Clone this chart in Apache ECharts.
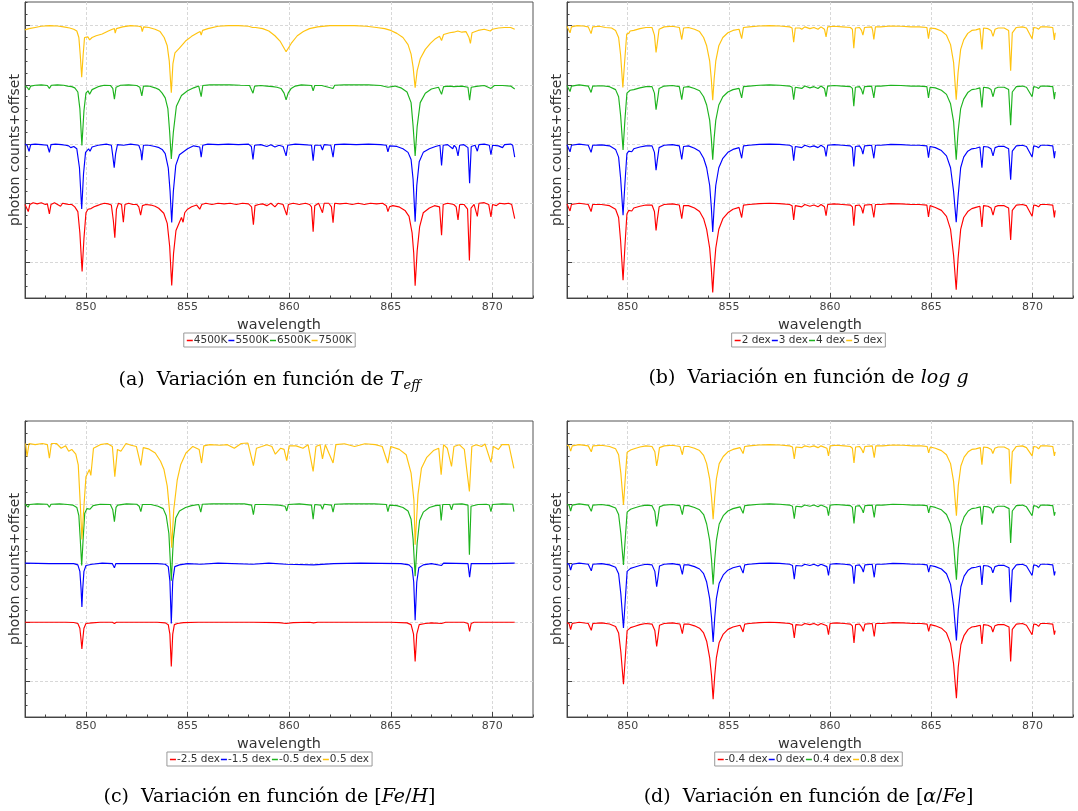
<!DOCTYPE html>
<html><head><meta charset="utf-8">
<script src="https://cdn.jsdelivr.net/npm/echarts@6/dist/echarts.min.js"></script>
<style>
html,body{margin:0;padding:0;background:#fff;width:1078px;height:811px;overflow:hidden}
.p{position:absolute}
</style></head><body>
<div id="pa" class="p" style="left:0;top:0;width:539px;height:419px"></div>
<div id="pb" class="p" style="left:539px;top:0;width:539px;height:419px"></div>
<div id="pc" class="p" style="left:0;top:419px;width:539px;height:392px"></div>
<div id="pd" class="p" style="left:539px;top:419px;width:539px;height:392px"></div>
<script>
// ---------------- data ----------------
const xTickValues = [850, 855, 860, 865, 870];
const yGridValues = [0, 0.5, 1, 1.5, 2];
const namesA = ['4500K', '5500K', '6500K', '7500K'];
const namesB = ['2 dex', '3 dex', '4 dex', '5 dex'];
const namesC = ['-2.5 dex', '-1.5 dex', '-0.5 dex', '0.5 dex'];
const namesD = ['-0.4 dex', '0 dex', '0.4 dex', '0.8 dex'];

// Panel (a): Teff
const specA_4500K = [[847.0,0.49],[847.08,0.5],[847.16,0.43],[847.24,0.49],[847.4,0.505],[847.6,0.495],[847.8,0.505],[848.0,0.49],[848.1,0.495],[848.2,0.41],[848.28,0.49],[848.45,0.505],[848.6,0.49],[848.75,0.475],[848.85,0.5],[849.0,0.495],[849.15,0.49],[849.3,0.49],[849.45,0.47],[849.6,0.43],[849.7,0.25],[849.81,-0.075],[849.9,0.2],[850.0,0.42],[850.1,0.45],[850.25,0.455],[850.4,0.47],[850.55,0.48],[850.7,0.49],[850.9,0.5],[851.1,0.495],[851.25,0.485],[851.35,0.35],[851.42,0.21],[851.5,0.45],[851.6,0.5],[851.75,0.49],[851.84,0.34],[851.92,0.49],[852.1,0.5],[852.3,0.49],[852.5,0.49],[852.6,0.47],[852.69,0.4],[852.78,0.48],[852.95,0.49],[853.2,0.485],[853.4,0.475],[853.58,0.458],[853.83,0.416],[854.0,0.33],[854.12,0.135],[854.22,-0.194],[854.31,0.077],[854.43,0.27],[854.6,0.34],[854.7,0.38],[854.78,0.34],[854.86,0.42],[855.0,0.45],[855.2,0.47],[855.45,0.485],[855.6,0.45],[855.7,0.49],[855.9,0.5],[856.2,0.49],[856.5,0.5],[856.8,0.495],[857.1,0.5],[857.4,0.49],[857.7,0.5],[858.0,0.495],[858.15,0.47],[858.24,0.32],[858.32,0.48],[858.5,0.49],[858.7,0.495],[858.9,0.48],[859.1,0.5],[859.3,0.47],[859.45,0.5],[859.7,0.49],[859.88,0.4],[859.96,0.49],[860.2,0.5],[860.5,0.49],[860.8,0.5],[861.0,0.49],[861.1,0.47],[861.18,0.26],[861.26,0.48],[861.45,0.5],[861.64,0.42],[861.72,0.5],[861.95,0.5],[862.08,0.47],[862.16,0.337],[862.24,0.5],[862.5,0.495],[862.8,0.5],[863.1,0.49],[863.4,0.5],[863.7,0.49],[864.0,0.5],[864.3,0.495],[864.6,0.5],[864.78,0.48],[864.86,0.43],[864.94,0.47],[865.1,0.48],[865.4,0.47],[865.7,0.44],[865.9,0.39],[866.05,0.25],[866.13,0.08],[866.2,-0.197],[866.3,0.1],[866.42,0.3],[866.6,0.42],[866.9,0.46],[867.15,0.48],[867.4,0.47],[867.5,0.23],[867.58,0.49],[867.8,0.5],[868.1,0.49],[868.22,0.47],[868.31,0.36],[868.39,0.49],[868.6,0.49],[868.78,0.45],[868.87,0.017],[868.95,0.46],[869.1,0.49],[869.26,0.39],[869.34,0.5],[869.6,0.505],[869.82,0.49],[869.93,0.385],[870.01,0.49],[870.2,0.48],[870.35,0.5],[870.6,0.495],[870.8,0.5],[870.95,0.49],[871.1,0.37]];
const specA_5500K = [[847.0,1.0],[847.1,0.99],[847.2,0.938],[847.28,0.995],[847.5,1.0],[847.8,0.995],[848.1,0.99],[848.2,0.93],[848.28,0.995],[848.5,1.0],[848.8,0.995],[849.0,0.99],[849.15,0.985],[849.25,0.97],[849.4,0.98],[849.55,0.96],[849.68,0.8],[849.79,0.451],[849.88,0.75],[849.98,0.93],[850.13,0.96],[850.2,0.94],[850.3,0.975],[850.6,0.99],[851.0,1.0],[851.25,0.99],[851.32,0.9],[851.39,0.8],[851.46,0.92],[851.55,0.995],[851.85,0.99],[852.2,1.0],[852.6,0.99],[852.7,0.94],[852.75,0.865],[852.83,0.99],[853.1,0.99],[853.4,0.98],[853.6,0.97],[853.75,0.955],[853.9,0.92],[854.05,0.8],[854.14,0.6],[854.22,0.338],[854.3,0.6],[854.42,0.82],[854.6,0.91],[854.8,0.935],[855.0,0.96],[855.3,0.985],[855.6,0.975],[855.67,0.89],[855.75,0.99],[856.0,1.0],[856.5,0.995],[857.0,1.0],[857.5,0.995],[858.0,1.0],[858.14,0.98],[858.22,0.87],[858.3,0.99],[858.6,0.995],[858.9,0.98],[859.1,0.995],[859.3,0.975],[859.5,0.99],[859.7,0.98],[859.85,0.9],[859.93,0.99],[860.3,1.0],[860.7,0.995],[861.1,0.99],[861.18,0.86],[861.26,0.99],[861.55,0.99],[861.64,0.95],[861.72,0.995],[862.05,0.99],[862.16,0.89],[862.24,0.995],[862.7,1.0],[863.3,0.995],[863.9,1.0],[864.5,0.995],[864.78,0.99],[864.86,0.935],[864.94,0.985],[865.3,0.98],[865.6,0.96],[865.85,0.93],[866.0,0.87],[866.1,0.7],[866.2,0.345],[866.28,0.65],[866.4,0.85],[866.6,0.93],[866.9,0.96],[867.2,0.98],[867.42,0.99],[867.5,0.82],[867.58,0.99],[867.8,0.995],[868.05,0.96],[868.12,0.99],[868.22,0.97],[868.31,0.9],[868.39,0.99],[868.6,0.995],[868.8,0.97],[868.88,0.67],[868.96,0.98],[869.15,0.99],[869.26,0.94],[869.34,0.995],[869.6,1.0],[869.85,0.99],[869.93,0.91],[870.01,0.99],[870.3,0.985],[870.5,0.97],[870.6,0.995],[870.9,1.0],[871.0,0.99],[871.1,0.89]];
const specA_6500K = [[847.0,1.49],[847.1,1.48],[847.2,1.458],[847.28,1.49],[847.5,1.497],[847.8,1.5],[848.1,1.495],[848.2,1.47],[848.3,1.497],[848.6,1.5],[848.9,1.497],[849.1,1.49],[849.3,1.485],[849.45,1.475],[849.6,1.44],[849.7,1.3],[849.8,0.988],[849.9,1.28],[850.0,1.43],[850.1,1.45],[850.18,1.42],[850.3,1.46],[850.6,1.485],[850.9,1.497],[851.2,1.495],[851.32,1.47],[851.4,1.379],[851.48,1.48],[851.7,1.497],[852.1,1.5],[852.5,1.495],[852.65,1.48],[852.75,1.407],[852.83,1.49],[853.1,1.49],[853.4,1.475],[853.6,1.46],[853.75,1.43],[853.9,1.39],[854.03,1.3],[854.12,1.1],[854.2,0.875],[854.3,1.1],[854.45,1.32],[854.7,1.41],[855.0,1.45],[855.3,1.475],[855.55,1.49],[855.67,1.40],[855.75,1.495],[856.1,1.5],[856.6,1.5],[857.1,1.5],[857.6,1.497],[858.05,1.495],[858.14,1.48],[858.22,1.43],[858.3,1.49],[858.6,1.495],[858.9,1.49],[859.2,1.485],[859.4,1.48],[859.6,1.47],[859.75,1.43],[859.85,1.373],[859.95,1.43],[860.1,1.47],[860.3,1.49],[860.6,1.5],[861.1,1.495],[861.18,1.45],[861.26,1.495],[861.6,1.495],[862.16,1.47],[862.24,1.497],[862.7,1.5],[863.3,1.5],[863.9,1.5],[864.5,1.495],[864.86,1.48],[865.2,1.49],[865.5,1.475],[865.8,1.44],[866.0,1.35],[866.1,1.15],[866.2,0.9],[866.3,1.15],[866.45,1.35],[866.7,1.43],[867.0,1.465],[867.35,1.48],[867.5,1.42],[867.6,1.485],[867.9,1.49],[868.1,1.485],[868.5,1.49],[868.8,1.48],[868.88,1.37],[868.96,1.48],[869.3,1.49],[869.6,1.495],[869.93,1.47],[870.1,1.495],[870.5,1.495],[870.9,1.49],[871.1,1.465]];
const specA_7500K = [[847.0,1.965],[847.2,1.975],[847.5,1.985],[847.8,1.995],[848.2,2.0],[848.6,1.997],[848.9,1.99],[849.2,1.98],[849.4,1.97],[849.55,1.955],[849.65,1.9],[849.72,1.75],[849.79,1.564],[849.86,1.75],[849.93,1.9],[850.0,1.915],[850.1,1.905],[850.18,1.88],[850.3,1.9],[850.5,1.915],[850.8,1.93],[851.1,1.955],[851.3,1.97],[851.4,1.975],[851.44,1.937],[851.5,1.975],[851.8,1.99],[852.2,2.0],[852.6,1.995],[852.72,1.99],[852.77,1.95],[852.84,1.99],[853.1,1.985],[853.4,1.97],[853.65,1.95],[853.85,1.9],[854.0,1.83],[854.1,1.7],[854.2,1.434],[854.28,1.68],[854.38,1.77],[854.6,1.81],[854.9,1.87],[855.2,1.91],[855.5,1.94],[855.62,1.95],[855.67,1.92],[855.74,1.96],[856.0,1.975],[856.5,1.995],[857.0,2.0],[857.5,2.0],[858.0,1.995],[858.2,1.985],[858.25,1.97],[858.35,1.985],[858.7,1.975],[859.0,1.955],[859.3,1.915],[859.55,1.87],[859.85,1.78],[860.1,1.85],[860.4,1.915],[860.7,1.95],[861.0,1.975],[861.4,1.99],[862.0,2.0],[862.6,2.0],[863.2,2.0],[863.8,1.995],[864.3,1.985],[864.7,1.975],[865.0,1.96],[865.3,1.935],[865.6,1.9],[865.85,1.84],[866.0,1.76],[866.1,1.65],[866.2,1.476],[866.3,1.62],[866.45,1.72],[866.7,1.8],[866.95,1.85],[867.2,1.89],[867.4,1.91],[867.5,1.875],[867.6,1.925],[867.9,1.94],[868.1,1.945],[868.3,1.955],[868.5,1.945],[868.7,1.95],[868.85,1.9],[868.92,1.85],[869.0,1.94],[869.3,1.96],[869.6,1.97],[869.9,1.955],[870.0,1.97],[870.3,1.98],[870.6,1.985],[870.9,1.985],[871.1,1.97]];

// Panel (b): log g
const specB_2 = [[847.0,0.495],[847.08,0.49],[847.15,0.435],[847.22,0.49],[847.6,0.5],[848.05,0.49],[848.19,0.43],[848.27,0.49],[848.7,0.49],[849.1,0.48],[849.4,0.45],[849.55,0.38],[849.65,0.18],[849.77,-0.15],[849.86,0.13],[849.96,0.41],[850.05,0.44],[850.12,0.455],[850.2,0.435],[850.3,0.46],[850.6,0.475],[850.9,0.485],[851.2,0.485],[851.32,0.43],[851.4,0.27],[851.46,0.36],[851.55,0.47],[851.8,0.49],[852.2,0.495],[852.55,0.485],[852.67,0.37],[852.76,0.48],[853.0,0.48],[853.3,0.46],[853.55,0.43],[853.75,0.37],[853.9,0.28],[854.05,0.12],[854.13,-0.05],[854.2,-0.253],[854.27,-0.05],[854.35,0.12],[854.5,0.28],[854.7,0.37],[854.95,0.42],[855.2,0.45],[855.5,0.465],[855.63,0.38],[855.72,0.485],[856.0,0.49],[856.5,0.497],[857.0,0.5],[857.5,0.497],[858.0,0.49],[858.12,0.48],[858.2,0.36],[858.28,0.48],[858.6,0.47],[858.75,0.49],[859.0,0.475],[859.2,0.485],[859.4,0.47],[859.55,0.49],[859.72,0.47],[859.8,0.395],[859.88,0.49],[860.2,0.495],[860.6,0.49],[861.0,0.485],[861.1,0.47],[861.17,0.31],[861.25,0.48],[861.45,0.485],[861.55,0.46],[861.62,0.415],[861.7,0.485],[862.05,0.49],[862.16,0.38],[862.24,0.49],[862.5,0.49],[863.0,0.497],[863.5,0.495],[864.0,0.49],[864.4,0.49],[864.78,0.485],[864.86,0.385],[864.94,0.48],[865.2,0.465],[865.5,0.44],[865.75,0.39],[865.95,0.28],[866.1,0.06],[866.23,-0.23],[866.32,0.03],[866.45,0.28],[866.6,0.38],[866.8,0.43],[867.0,0.455],[867.2,0.465],[867.4,0.475],[867.5,0.3],[867.58,0.48],[867.8,0.475],[867.95,0.46],[868.05,0.4],[868.15,0.47],[868.3,0.48],[868.6,0.48],[868.82,0.46],[868.92,0.19],[869.0,0.44],[869.2,0.485],[869.5,0.49],[869.7,0.48],[869.98,0.39],[870.06,0.485],[870.2,0.48],[870.3,0.47],[870.4,0.49],[870.7,0.49],[871.0,0.485],[871.08,0.38],[871.12,0.44]];
const specB_3 = [[847.0,0.995],[847.08,0.99],[847.15,0.935],[847.22,0.99],[847.6,1.0],[848.05,0.99],[848.19,0.93],[848.27,0.99],[848.7,0.993],[849.1,0.985],[849.4,0.955],[849.55,0.89],[849.65,0.71],[849.77,0.40],[849.86,0.66],[849.96,0.92],[850.05,0.94],[850.12,0.955],[850.2,0.935],[850.3,0.96],[850.6,0.975],[850.9,0.985],[851.2,0.985],[851.32,0.93],[851.4,0.78],[851.46,0.86],[851.55,0.97],[851.8,0.99],[852.2,0.995],[852.55,0.985],[852.67,0.87],[852.76,0.98],[853.0,0.985],[853.3,0.965],[853.55,0.94],[853.75,0.88],[853.9,0.8],[854.05,0.65],[854.13,0.47],[854.2,0.257],[854.27,0.47],[854.35,0.65],[854.5,0.8],[854.7,0.88],[854.95,0.93],[855.2,0.955],[855.5,0.97],[855.63,0.88],[855.72,0.985],[856.0,0.99],[856.5,0.997],[857.0,1.0],[857.5,0.997],[858.0,0.99],[858.12,0.98],[858.2,0.86],[858.28,0.98],[858.6,0.97],[858.75,0.99],[859.0,0.975],[859.2,0.985],[859.4,0.97],[859.55,0.99],[859.72,0.97],[859.8,0.895],[859.88,0.99],[860.2,0.995],[860.6,0.99],[861.0,0.985],[861.1,0.97],[861.17,0.81],[861.25,0.98],[861.45,0.985],[861.55,0.96],[861.62,0.915],[861.7,0.985],[862.05,0.99],[862.16,0.88],[862.24,0.99],[862.5,0.99],[863.0,0.997],[863.5,0.995],[864.0,0.99],[864.4,0.99],[864.78,0.985],[864.86,0.885],[864.94,0.98],[865.2,0.97],[865.5,0.945],[865.75,0.9],[865.95,0.8],[866.1,0.6],[866.23,0.34],[866.32,0.55],[866.45,0.8],[866.6,0.89],[866.8,0.94],[867.0,0.96],[867.2,0.965],[867.4,0.975],[867.5,0.8],[867.58,0.98],[867.8,0.975],[867.95,0.96],[868.05,0.9],[868.15,0.97],[868.3,0.98],[868.6,0.98],[868.82,0.96],[868.92,0.70],[869.0,0.94],[869.2,0.985],[869.5,0.99],[869.7,0.98],[869.98,0.89],[870.06,0.985],[870.2,0.98],[870.3,0.97],[870.4,0.99],[870.7,0.99],[871.0,0.985],[871.08,0.88],[871.12,0.94]];
const specB_4 = [[847.0,1.495],[847.08,1.49],[847.15,1.444],[847.22,1.49],[847.6,1.5],[848.05,1.49],[848.19,1.436],[848.27,1.49],[848.7,1.493],[849.1,1.485],[849.4,1.46],[849.55,1.4],[849.65,1.24],[849.77,0.95],[849.86,1.2],[849.96,1.43],[850.05,1.44],[850.12,1.455],[850.2,1.44],[850.3,1.46],[850.6,1.475],[850.9,1.485],[851.2,1.485],[851.32,1.43],[851.4,1.29],[851.46,1.36],[851.55,1.47],[851.8,1.49],[852.2,1.495],[852.55,1.485],[852.67,1.375],[852.76,1.48],[853.0,1.485],[853.3,1.47],[853.55,1.45],[853.75,1.4],[853.9,1.33],[854.05,1.2],[854.13,1.05],[854.2,0.867],[854.27,1.05],[854.35,1.2],[854.5,1.33],[854.7,1.4],[854.95,1.44],[855.2,1.46],[855.5,1.47],[855.63,1.39],[855.72,1.485],[856.0,1.49],[856.5,1.497],[857.0,1.5],[857.5,1.497],[858.0,1.49],[858.12,1.48],[858.2,1.375],[858.28,1.48],[858.6,1.47],[858.75,1.49],[859.0,1.475],[859.2,1.485],[859.4,1.47],[859.55,1.49],[859.72,1.47],[859.8,1.40],[859.88,1.49],[860.2,1.495],[860.6,1.49],[861.0,1.485],[861.1,1.47],[861.17,1.32],[861.25,1.48],[861.45,1.485],[861.55,1.46],[861.62,1.42],[861.7,1.485],[862.05,1.49],[862.16,1.39],[862.24,1.49],[862.5,1.49],[863.0,1.497],[863.5,1.495],[864.0,1.49],[864.4,1.49],[864.78,1.485],[864.86,1.39],[864.94,1.48],[865.2,1.475],[865.5,1.455],[865.75,1.42],[865.95,1.34],[866.1,1.19],[866.23,0.867],[866.32,1.1],[866.45,1.3],[866.6,1.38],[866.8,1.435],[867.0,1.46],[867.2,1.465],[867.4,1.475],[867.5,1.31],[867.58,1.48],[867.8,1.475],[867.95,1.46],[868.05,1.4],[868.15,1.47],[868.3,1.48],[868.6,1.48],[868.82,1.46],[868.92,1.16],[869.0,1.44],[869.2,1.485],[869.5,1.49],[869.7,1.48],[869.98,1.40],[870.06,1.485],[870.2,1.48],[870.3,1.47],[870.4,1.49],[870.7,1.49],[871.0,1.485],[871.08,1.38],[871.12,1.44]];
const specB_5 = [[847.0,1.995],[847.08,1.99],[847.15,1.94],[847.22,1.99],[847.5,2.0],[847.8,1.997],[848.05,1.99],[848.19,1.933],[848.27,1.99],[848.6,1.995],[848.9,1.985],[849.2,1.98],[849.4,1.96],[849.55,1.9],[849.65,1.75],[849.76,1.478],[849.85,1.7],[849.95,1.93],[850.05,1.935],[850.12,1.955],[850.2,1.94],[850.3,1.96],[850.6,1.975],[850.9,1.985],[851.2,1.985],[851.32,1.92],[851.4,1.774],[851.46,1.85],[851.55,1.97],[851.8,1.99],[852.2,1.995],[852.55,1.985],[852.67,1.883],[852.76,1.98],[853.0,1.985],[853.3,1.97],[853.55,1.95],[853.75,1.9],[853.9,1.83],[854.05,1.7],[854.13,1.55],[854.2,1.37],[854.27,1.55],[854.35,1.7],[854.5,1.83],[854.7,1.9],[854.95,1.94],[855.2,1.96],[855.5,1.97],[855.63,1.89],[855.72,1.985],[856.0,1.99],[856.5,1.997],[857.0,2.0],[857.5,1.997],[858.0,1.99],[858.12,1.98],[858.2,1.86],[858.28,1.98],[858.5,1.98],[858.6,1.97],[858.75,1.99],[859.0,1.975],[859.2,1.985],[859.4,1.97],[859.55,1.99],[859.72,1.97],[859.8,1.905],[859.88,1.99],[860.2,1.995],[860.6,1.99],[861.0,1.985],[861.1,1.97],[861.17,1.81],[861.25,1.98],[861.45,1.985],[861.55,1.96],[861.62,1.92],[861.7,1.985],[862.05,1.99],[862.1,1.96],[862.16,1.883],[862.24,1.99],[862.5,1.99],[863.0,1.997],[863.5,1.995],[864.0,1.99],[864.4,1.99],[864.78,1.985],[864.86,1.89],[864.94,1.98],[865.2,1.975],[865.5,1.955],[865.75,1.92],[865.95,1.84],[866.1,1.69],[866.23,1.375],[866.32,1.6],[866.45,1.8],[866.6,1.88],[866.8,1.935],[867.0,1.96],[867.2,1.965],[867.4,1.975],[867.5,1.8],[867.58,1.98],[867.8,1.975],[867.95,1.96],[868.05,1.91],[868.15,1.97],[868.3,1.98],[868.6,1.98],[868.82,1.96],[868.92,1.62],[869.0,1.94],[869.2,1.985],[869.5,1.99],[869.7,1.98],[869.98,1.89],[870.06,1.985],[870.2,1.98],[870.3,1.97],[870.4,1.99],[870.7,1.99],[871.0,1.985],[871.08,1.88],[871.12,1.94]];

// Panel (c): [Fe/H]
const specC_m25 = [[847.0,0.5],[848.0,0.5],[849.0,0.5],[849.4,0.498],[849.6,0.49],[849.7,0.45],[849.76,0.35],[849.8,0.274],[849.84,0.35],[849.9,0.45],[850.0,0.49],[850.3,0.495],[850.7,0.5],[851.3,0.5],[851.4,0.49],[851.5,0.5],[852.5,0.5],[853.5,0.5],[853.9,0.495],[854.05,0.48],[854.13,0.4],[854.2,0.127],[854.27,0.4],[854.35,0.48],[854.5,0.49],[854.8,0.497],[855.5,0.5],[857.0,0.5],[858.2,0.5],[859.5,0.497],[859.85,0.49],[860.2,0.497],[861.0,0.5],[861.2,0.495],[861.4,0.5],[863.0,0.5],[865.0,0.5],[865.8,0.495],[866.0,0.48],[866.12,0.4],[866.2,0.17],[866.28,0.4],[866.4,0.48],[866.7,0.49],[867.0,0.495],[867.5,0.49],[867.7,0.5],[868.6,0.5],[868.8,0.49],[868.88,0.424],[868.96,0.49],[869.1,0.5],[871.1,0.5]];
const specC_m15 = [[847.0,1.0],[848.2,0.995],[849.4,0.995],[849.6,0.985],[849.7,0.93],[849.76,0.78],[849.8,0.63],[849.84,0.78],[849.9,0.93],[850.0,0.98],[850.3,0.99],[850.8,1.0],[851.3,0.995],[851.4,0.96],[851.47,0.995],[852.7,0.995],[853.5,0.995],[853.9,0.99],[854.05,0.97],[854.13,0.85],[854.2,0.489],[854.27,0.85],[854.37,0.97],[854.6,0.985],[855.0,0.995],[855.65,0.99],[856.5,1.0],[858.2,0.99],[859.0,1.0],[859.85,0.99],[861.2,0.985],[862.2,0.995],[863.5,1.0],[865.5,0.995],[865.9,0.985],[866.05,0.96],[866.13,0.84],[866.2,0.517],[866.28,0.84],[866.38,0.96],[866.6,0.985],[867.0,0.995],[867.5,0.98],[867.6,1.0],[868.8,0.995],[868.88,0.88],[868.96,0.995],[869.9,0.995],[871.1,1.0]];
const specC_m05 = [[847.0,1.5],[847.08,1.49],[847.15,1.472],[847.22,1.495],[847.6,1.5],[848.1,1.497],[848.2,1.472],[848.28,1.497],[848.7,1.5],[849.1,1.495],[849.35,1.49],[849.55,1.47],[849.65,1.4],[849.72,1.2],[849.79,0.98],[849.86,1.2],[849.94,1.42],[850.05,1.46],[850.12,1.47],[850.2,1.455],[850.35,1.485],[850.7,1.497],[851.2,1.495],[851.32,1.45],[851.4,1.35],[851.48,1.47],[851.56,1.49],[852.0,1.5],[852.5,1.497],[852.62,1.48],[852.7,1.435],[852.78,1.495],[853.2,1.495],[853.55,1.48],[853.8,1.46],[853.95,1.4],[854.08,1.25],[854.2,0.85],[854.3,1.2],[854.42,1.38],[854.6,1.44],[854.9,1.47],[855.2,1.485],[855.55,1.495],[855.65,1.43],[855.73,1.497],[856.2,1.5],[857.0,1.5],[857.8,1.5],[858.15,1.49],[858.24,1.41],[858.32,1.495],[858.8,1.495],[859.5,1.49],[859.8,1.48],[859.88,1.44],[859.96,1.495],[860.5,1.5],[861.1,1.49],[861.18,1.37],[861.26,1.495],[861.55,1.49],[861.64,1.455],[861.72,1.497],[862.08,1.49],[862.16,1.43],[862.24,1.497],[862.8,1.5],[863.5,1.5],[864.2,1.5],[864.78,1.495],[864.86,1.435],[864.94,1.49],[865.3,1.485],[865.6,1.47],[865.85,1.44],[866.0,1.37],[866.1,1.2],[866.2,0.89],[866.3,1.17],[866.42,1.36],[866.6,1.43],[866.9,1.47],[867.2,1.485],[867.42,1.49],[867.48,1.36],[867.56,1.495],[867.9,1.495],[867.99,1.45],[868.07,1.497],[868.5,1.5],[868.8,1.49],[868.87,1.07],[868.95,1.48],[869.3,1.495],[869.7,1.497],[869.85,1.49],[869.93,1.435],[870.01,1.495],[870.5,1.5],[871.0,1.497],[871.06,1.435]];
const specC_p05 = [[847.03,2.01],[847.1,1.90],[847.2,2.01],[847.5,2.0],[847.85,2.01],[848.1,2.0],[848.2,1.887],[848.3,2.01],[848.55,2.01],[848.78,1.97],[849.0,1.99],[849.15,1.945],[849.3,1.96],[849.5,1.92],[849.62,1.83],[849.72,1.5],[849.8,1.20],[849.88,1.43],[850.0,1.73],[850.17,1.79],[850.24,1.74],[850.37,1.97],[850.7,2.0],[851.05,2.01],[851.3,1.985],[851.42,1.73],[851.55,1.96],[851.72,1.945],[851.97,2.01],[852.22,1.995],[852.48,1.985],[852.7,1.825],[852.82,1.975],[853.07,1.965],[853.41,1.93],[853.67,1.86],[853.84,1.79],[854.0,1.65],[854.12,1.43],[854.22,1.13],[854.32,1.45],[854.49,1.70],[854.66,1.83],[854.92,1.93],[855.26,1.985],[855.57,1.96],[855.69,1.845],[855.8,1.99],[856.1,2.0],[856.62,1.995],[856.96,2.0],[857.3,1.97],[857.64,2.01],[857.97,2.014],[858.24,1.823],[858.39,1.97],[858.65,1.985],[858.9,2.0],[859.15,1.985],[859.32,1.92],[859.58,1.97],[859.75,1.96],[859.88,1.865],[860.0,1.99],[860.34,1.99],[860.68,1.97],[860.93,2.0],[861.18,1.774],[861.32,1.985],[861.52,2.0],[861.64,1.88],[861.78,2.0],[862.16,1.845],[862.3,2.0],[862.72,2.008],[863.22,1.985],[863.73,2.008],[864.24,2.0],[864.58,1.985],[864.85,1.845],[865.0,1.985],[865.42,1.96],[865.76,1.915],[866.0,1.76],[866.14,1.53],[866.2,1.155],[866.34,1.58],[866.51,1.80],[866.76,1.89],[867.1,1.95],[867.36,1.97],[867.48,1.746],[867.6,2.0],[867.78,1.97],[867.99,1.816],[868.11,1.985],[868.37,2.0],[868.62,1.96],[868.87,1.605],[868.99,1.985],[869.2,2.0],[869.47,1.985],[869.64,2.006],[869.93,1.85],[870.05,1.985],[870.3,1.96],[870.47,2.0],[870.81,2.0],[871.06,1.80]];

// Panel (d): [alpha/Fe]
const specD_m04 = [[847.0,0.495],[847.1,0.49],[847.18,0.438],[847.26,0.49],[847.6,0.5],[848.05,0.49],[848.2,0.432],[848.28,0.49],[848.7,0.495],[849.1,0.485],[849.4,0.465],[849.55,0.41],[849.66,0.25],[849.79,-0.023],[849.88,0.2],[849.97,0.43],[850.05,0.445],[850.14,0.455],[850.22,0.44],[850.32,0.465],[850.6,0.48],[850.9,0.49],[851.2,0.485],[851.34,0.43],[851.43,0.297],[851.49,0.37],[851.57,0.475],[851.8,0.49],[852.2,0.495],[852.58,0.485],[852.7,0.404],[852.78,0.485],[853.0,0.485],[853.3,0.47],[853.55,0.45],[853.75,0.41],[853.9,0.34],[854.05,0.2],[854.14,0.05],[854.22,-0.15],[854.3,0.05],[854.38,0.2],[854.52,0.33],[854.72,0.4],[854.95,0.44],[855.2,0.46],[855.55,0.475],[855.7,0.418],[855.78,0.485],[856.0,0.49],[856.5,0.497],[857.0,0.5],[857.5,0.497],[858.0,0.49],[858.14,0.48],[858.23,0.367],[858.31,0.48],[858.6,0.475],[858.75,0.49],[859.0,0.48],[859.2,0.49],[859.4,0.475],[859.55,0.49],[859.84,0.47],[859.92,0.395],[860.0,0.49],[860.3,0.495],[860.7,0.49],[861.0,0.485],[861.1,0.47],[861.18,0.325],[861.26,0.48],[861.45,0.485],[861.56,0.46],[861.64,0.424],[861.72,0.485],[862.08,0.49],[862.18,0.38],[862.26,0.49],[862.6,0.49],[863.1,0.497],[863.6,0.495],[864.1,0.49],[864.5,0.49],[864.79,0.485],[864.87,0.424],[864.95,0.48],[865.2,0.47],[865.5,0.45],[865.75,0.41],[865.95,0.32],[866.1,0.15],[866.24,-0.141],[866.33,0.12],[866.46,0.31],[866.62,0.39],[866.82,0.44],[867.0,0.46],[867.2,0.465],[867.42,0.475],[867.5,0.316],[867.58,0.48],[867.8,0.475],[867.96,0.46],[868.04,0.418],[868.14,0.47],[868.3,0.48],[868.6,0.48],[868.84,0.46],[868.92,0.17],[869.0,0.44],[869.2,0.485],[869.5,0.49],[869.7,0.475],[869.98,0.395],[870.06,0.485],[870.2,0.48],[870.3,0.465],[870.4,0.49],[870.7,0.49],[871.0,0.485],[871.08,0.395],[871.12,0.43]];
const specD_0 = [[847.0,0.995],[847.1,0.99],[847.18,0.94],[847.26,0.99],[847.6,1.0],[848.05,0.99],[848.2,0.935],[848.28,0.99],[848.7,0.995],[849.1,0.985],[849.4,0.965],[849.55,0.91],[849.66,0.74],[849.79,0.452],[849.88,0.69],[849.97,0.93],[850.05,0.945],[850.14,0.955],[850.22,0.94],[850.32,0.965],[850.6,0.98],[850.9,0.99],[851.2,0.985],[851.34,0.93],[851.43,0.8],[851.49,0.87],[851.57,0.975],[851.8,0.99],[852.2,0.995],[852.58,0.985],[852.7,0.905],[852.78,0.985],[853.0,0.985],[853.3,0.97],[853.55,0.95],[853.75,0.91],[853.9,0.84],[854.05,0.7],[854.14,0.54],[854.22,0.333],[854.3,0.54],[854.38,0.7],[854.52,0.83],[854.72,0.9],[854.95,0.94],[855.2,0.96],[855.55,0.975],[855.7,0.915],[855.78,0.985],[856.0,0.99],[856.5,0.997],[857.0,1.0],[857.5,0.997],[858.0,0.99],[858.14,0.98],[858.23,0.865],[858.31,0.98],[858.6,0.975],[858.75,0.99],[859.0,0.98],[859.2,0.99],[859.4,0.975],[859.55,0.99],[859.84,0.97],[859.92,0.895],[860.0,0.99],[860.3,0.995],[860.7,0.99],[861.0,0.985],[861.1,0.97],[861.18,0.825],[861.26,0.98],[861.45,0.985],[861.56,0.96],[861.64,0.924],[861.72,0.985],[862.08,0.99],[862.18,0.88],[862.26,0.99],[862.6,0.99],[863.1,0.997],[863.6,0.995],[864.1,0.99],[864.5,0.99],[864.79,0.985],[864.87,0.924],[864.95,0.98],[865.2,0.97],[865.5,0.95],[865.75,0.91],[865.95,0.82],[866.1,0.64],[866.24,0.347],[866.33,0.6],[866.46,0.8],[866.62,0.89],[866.82,0.94],[867.0,0.96],[867.2,0.965],[867.42,0.975],[867.5,0.816],[867.58,0.98],[867.8,0.975],[867.96,0.96],[868.04,0.918],[868.14,0.97],[868.3,0.98],[868.6,0.98],[868.84,0.96],[868.92,0.67],[869.0,0.94],[869.2,0.985],[869.5,0.99],[869.7,0.975],[869.98,0.895],[870.06,0.985],[870.2,0.98],[870.3,0.965],[870.4,0.99],[870.7,0.99],[871.0,0.985],[871.08,0.895],[871.12,0.93]];
const specD_p04 = [[847.0,1.495],[847.1,1.49],[847.18,1.44],[847.26,1.49],[847.6,1.5],[848.05,1.49],[848.2,1.437],[848.28,1.49],[848.7,1.495],[849.1,1.485],[849.4,1.465],[849.55,1.41],[849.66,1.25],[849.79,0.985],[849.88,1.21],[849.97,1.43],[850.05,1.445],[850.14,1.455],[850.22,1.44],[850.32,1.465],[850.6,1.48],[850.9,1.49],[851.2,1.485],[851.34,1.435],[851.43,1.31],[851.49,1.375],[851.57,1.475],[851.8,1.49],[852.2,1.495],[852.58,1.485],[852.7,1.41],[852.78,1.485],[853.0,1.485],[853.3,1.47],[853.55,1.45],[853.75,1.41],[853.9,1.33],[854.05,1.19],[854.14,1.03],[854.22,0.82],[854.3,1.03],[854.38,1.19],[854.52,1.33],[854.72,1.4],[854.95,1.44],[855.2,1.46],[855.55,1.475],[855.7,1.42],[855.78,1.485],[856.0,1.49],[856.5,1.497],[857.0,1.5],[857.5,1.497],[858.0,1.49],[858.14,1.48],[858.23,1.375],[858.31,1.48],[858.6,1.475],[858.75,1.49],[859.0,1.48],[859.2,1.49],[859.4,1.475],[859.55,1.49],[859.84,1.47],[859.92,1.4],[860.0,1.49],[860.3,1.495],[860.7,1.49],[861.0,1.485],[861.1,1.47],[861.18,1.335],[861.26,1.48],[861.45,1.485],[861.56,1.46],[861.64,1.425],[861.72,1.485],[862.08,1.49],[862.18,1.385],[862.26,1.49],[862.6,1.49],[863.1,1.497],[863.6,1.495],[864.1,1.49],[864.5,1.49],[864.79,1.485],[864.87,1.425],[864.95,1.48],[865.2,1.47],[865.5,1.45],[865.75,1.41],[865.95,1.33],[866.1,1.16],[866.24,0.86],[866.33,1.12],[866.46,1.31],[866.62,1.39],[866.82,1.44],[867.0,1.46],[867.2,1.465],[867.42,1.475],[867.5,1.325],[867.58,1.48],[867.8,1.475],[867.96,1.46],[868.04,1.42],[868.14,1.47],[868.3,1.48],[868.6,1.48],[868.84,1.46],[868.92,1.17],[869.0,1.44],[869.2,1.485],[869.5,1.49],[869.7,1.475],[869.98,1.4],[870.06,1.485],[870.2,1.48],[870.3,1.465],[870.4,1.49],[870.7,1.49],[871.0,1.485],[871.08,1.4],[871.12,1.43]];
const specD_p08 = [[847.0,1.995],[847.1,1.99],[847.18,1.945],[847.26,1.99],[847.6,2.0],[848.05,1.99],[848.2,1.94],[848.28,1.99],[848.7,1.995],[849.1,1.985],[849.4,1.965],[849.55,1.915],[849.66,1.76],[849.79,1.49],[849.88,1.72],[849.97,1.935],[850.05,1.945],[850.14,1.955],[850.22,1.945],[850.32,1.965],[850.6,1.98],[850.9,1.99],[851.2,1.985],[851.34,1.94],[851.43,1.82],[851.49,1.88],[851.57,1.975],[851.8,1.99],[852.2,1.995],[852.58,1.985],[852.7,1.915],[852.78,1.985],[853.0,1.985],[853.3,1.97],[853.55,1.95],[853.75,1.91],[853.9,1.84],[854.05,1.71],[854.14,1.56],[854.22,1.37],[854.3,1.56],[854.38,1.71],[854.52,1.84],[854.72,1.9],[854.95,1.94],[855.2,1.96],[855.55,1.975],[855.7,1.925],[855.78,1.985],[856.0,1.99],[856.5,1.997],[857.0,2.0],[857.5,1.997],[858.0,1.99],[858.14,1.98],[858.23,1.88],[858.31,1.98],[858.6,1.975],[858.75,1.99],[859.0,1.98],[859.2,1.99],[859.4,1.975],[859.55,1.99],[859.84,1.97],[859.92,1.905],[860.0,1.99],[860.3,1.995],[860.7,1.99],[861.0,1.985],[861.1,1.97],[861.18,1.845],[861.26,1.98],[861.45,1.985],[861.56,1.96],[861.64,1.93],[861.72,1.985],[862.08,1.99],[862.18,1.89],[862.26,1.99],[862.6,1.99],[863.1,1.997],[863.6,1.995],[864.1,1.99],[864.5,1.99],[864.79,1.985],[864.87,1.93],[864.95,1.98],[865.2,1.97],[865.5,1.95],[865.75,1.915],[865.95,1.84],[866.1,1.69],[866.24,1.40],[866.33,1.65],[866.46,1.82],[866.62,1.895],[866.82,1.94],[867.0,1.96],[867.2,1.965],[867.42,1.975],[867.5,1.83],[867.58,1.98],[867.8,1.975],[867.96,1.96],[868.04,1.925],[868.14,1.97],[868.3,1.98],[868.6,1.98],[868.84,1.96],[868.92,1.67],[869.0,1.94],[869.2,1.985],[869.5,1.99],[869.7,1.975],[869.98,1.905],[870.06,1.985],[870.2,1.98],[870.3,1.965],[870.4,1.99],[870.7,1.99],[871.0,1.985],[871.08,1.905],[871.12,1.94]];

// ---------------- rendering ----------------
const seriesColors = ['#ff0000', '#0000ff', '#1db31d', '#ffc30f'];
const axisColor = '#444';
const sans = 'DejaVu Sans';
const serif = 'DejaVu Serif';

function makePanel(elId, gridLeft, gridWidth, names, specs, captionText, captionRich) {
  const chart = echarts.init(document.getElementById(elId), null, {renderer: 'canvas'});
  const series = specs.map((d, i) => ({
    name: names[i], type: 'line', data: d, xAxisIndex: 0, yAxisIndex: 0,
    showSymbol: false, symbol: 'none', smooth: false, clip: true,
    lineStyle: {width: 1.15, color: seriesColors[i]}, itemStyle: {color: seriesColors[i]},
    emphasis: {disabled: true}, z: 2 + i
  }));
  const baseRich = Object.assign({
    it: {fontFamily: serif, fontStyle: 'italic', fontSize: 19, color: '#000'}
  }, captionRich || {});
  chart.setOption({
    animation: false,
    textStyle: {fontFamily: sans},
    grid: {left: gridLeft, top: 2, width: gridWidth, height: 296, show: true,
           borderColor: '#555', borderWidth: 1, backgroundColor: 'rgba(0,0,0,0)'},
    xAxis: [
      {type: 'value', min: 847, max: 872, position: 'bottom', gridIndex: 0,
       axisLine: {show: true, onZero: false, lineStyle: {color: axisColor, width: 1}},
       axisTick: {show: true, inside: true, length: 5, customValues: xTickValues, lineStyle: {color: axisColor}},
       axisLabel: {show: true, customValues: xTickValues, color: '#444', fontSize: 11, margin: 4, fontFamily: sans},
       splitLine: {show: true, lineStyle: {color: '#d8d8d8', type: [3, 2], width: 1}},
       name: 'wavelength', nameLocation: 'middle', nameGap: 15,
       nameTextStyle: {fontSize: 14.4, color: '#333', fontFamily: sans}},
      {type: 'value', min: 847, max: 872, interval: 1, position: 'bottom', gridIndex: 0,
       axisLine: {show: false, onZero: false}, axisLabel: {show: false}, splitLine: {show: false},
       axisTick: {show: true, inside: true, length: 2.5, lineStyle: {color: axisColor}}}
    ],
    yAxis: [
      {type: 'value', min: -0.3, max: 2.2, position: 'left', gridIndex: 0,
       axisLine: {show: true, onZero: false, lineStyle: {color: axisColor, width: 1}},
       axisTick: {show: true, inside: true, length: 5, customValues: yGridValues, lineStyle: {color: axisColor}},
       axisLabel: {show: false},
       splitLine: {show: true, lineStyle: {color: '#d8d8d8', type: [3, 2], width: 1}},
       name: 'photon counts+offset', nameLocation: 'middle', nameGap: 3,
       nameTextStyle: {fontSize: 14, color: '#333', fontFamily: sans}},
      {type: 'value', min: -0.3, max: 2.2, interval: 0.1, position: 'left', offset: 0, gridIndex: 0,
       axisLine: {show: false, onZero: false}, axisLabel: {show: false}, splitLine: {show: false},
       axisTick: {show: true, inside: true, length: 2.5, lineStyle: {color: axisColor}}}
    ],
    legend: {data: names, top: 333, left: 'center', orient: 'horizontal', icon: 'rect',
             itemWidth: 6, itemHeight: 1.5, itemGap: 1, selectedMode: false,
             padding: [2, 3, 1, 3], borderColor: '#999', borderWidth: 1, borderRadius: 0,
             backgroundColor: '#fff',
             textStyle: {fontSize: 10.5, color: '#333', fontFamily: sans, padding: [0, 0, 0, -4]}},
    title: {left: 'center', top: 364, text: captionText,
            textStyle: {fontFamily: serif, fontSize: 19, fontWeight: 'normal', color: '#000', rich: baseRich}},
    series: series
  });
}

makePanel('pa', 24, 509, namesA, [specA_4500K, specA_5500K, specA_6500K, specA_7500K],
  '(a)  Variación en función de {it|T}{sub|eff}',
  {sub: {fontFamily: serif, fontStyle: 'italic', fontSize: 13, color: '#000', padding: [10, 0, 0, 1]}});
makePanel('pb', 28, 506, namesB, [specB_2, specB_3, specB_4, specB_5],
  '(b)  Variación en función de {it|log g}', null);
makePanel('pc', 24, 509, namesC, [specC_m25, specC_m15, specC_m05, specC_p05],
  '(c)  Variación en función de [{it|Fe}/{it|H}]', null);
makePanel('pd', 28, 506, namesD, [specD_m04, specD_0, specD_p04, specD_p08],
  '(d)  Variación en función de [{it|α}/{it|Fe}]', null);
</script>
</body></html>
